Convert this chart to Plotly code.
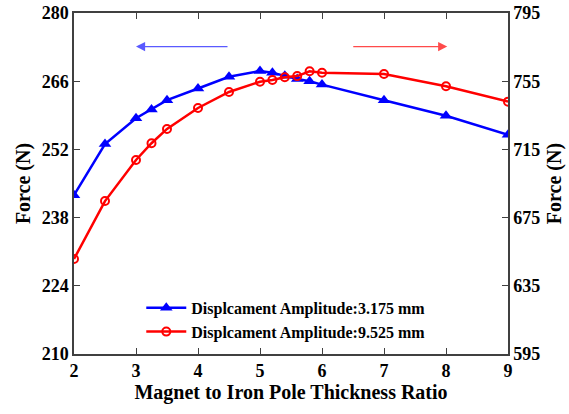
import plotly.graph_objects as go

ratio = [2, 2.5, 3, 3.25, 3.5, 4, 4.5, 5, 5.2, 5.4, 5.6, 5.8, 6, 7, 8, 9]
force_3175 = [242.6, 253.1, 258.4, 260.2, 262.1, 264.5, 266.9, 268.1, 267.75, 267.1,
              266.45, 266.0, 265.3, 262.1, 258.9, 255.0]
force_9525 = [650.7, 684.7, 708.8, 718.6, 727.0, 739.3, 748.7, 754.7, 755.7, 757.3,
              758.0, 760.8, 760.0, 759.2, 752.0, 743.0]
left_ticks = [210, 224, 238, 252, 266, 280]
right_ticks = [595, 635, 675, 715, 755, 795]
x_ticks = [2, 3, 4, 5, 6, 7, 8, 9]

FONT = "Liberation Serif"
AX = "#404040"

fig = go.Figure()
fig.add_trace(go.Scatter(
    x=ratio, y=force_3175, mode="lines+markers",
    name="<b>Displcament Amplitude:3.175 mm</b>",
    line=dict(color="#0000ff", width=2.5),
    marker=dict(symbol="triangle-up", size=11, color="#0000ff"),
    yaxis="y"))
fig.add_trace(go.Scatter(
    x=ratio, y=force_9525, mode="lines+markers",
    name="<b>Displcament Amplitude:9.525 mm</b>",
    line=dict(color="#ff0000", width=2.5),
    marker=dict(symbol="circle-open", size=8, color="#ff0000", line=dict(width=2)),
    yaxis="y2"))

axcommon = dict(showgrid=False, zeroline=False, showline=True, linecolor=AX, linewidth=1.5,
                ticks="inside", ticklen=6, tickcolor=AX, tickwidth=1.2, automargin=False,
                tickfont=dict(family=FONT, size=18, color="#000"))
tfont = dict(family=FONT, size=20, color="#000")

fig.update_layout(
    width=569, height=414,
    margin=dict(l=74, r=61, t=13, b=60),
    plot_bgcolor="white", paper_bgcolor="white",
    font=dict(family=FONT, color="#000"),
    xaxis=dict(range=[2, 9], tickvals=x_ticks, ticktext=[f"<b>{v}</b>" for v in x_ticks],
               mirror="ticks",
               title=dict(text="<b>Magnet to Iron Pole Thickness Ratio</b>", font=tfont, standoff=2),
               **axcommon),
    yaxis=dict(range=[210, 280], tickvals=left_ticks, ticktext=[f"<b>{v}</b>" for v in left_ticks],
               title=dict(text="<b>Force (N)</b>", font=tfont, standoff=6),
               **axcommon),
    yaxis2=dict(range=[595, 795], tickvals=right_ticks, ticktext=[f"<b>{v}</b>" for v in right_ticks],
                overlaying="y", side="right",
                title=dict(text="<b>Force (N)</b>", font=tfont, standoff=8),
                **axcommon),
    legend=dict(x=0.155, y=0.185, xanchor="left", yanchor="top", bgcolor="rgba(0,0,0,0)",
                font=dict(family=FONT, size=16, color="#000"),
                tracegroupgap=0, itemwidth=40),
    showlegend=True,
)

fig.add_annotation(x=3.0, y=273.1, ax=4.5, ay=273.1, xref="x", yref="y", axref="x", ayref="y",
                   showarrow=True, arrowhead=2, arrowsize=1.4, arrowwidth=1.3,
                   arrowcolor="#5a5aff", text="")
fig.add_annotation(x=8.02, y=273.1, ax=6.48, ay=273.1, xref="x", yref="y", axref="x", ayref="y",
                   showarrow=True, arrowhead=2, arrowsize=1.4, arrowwidth=1.3,
                   arrowcolor="#ff4a4a", text="")

fig.write_html("out.html")
